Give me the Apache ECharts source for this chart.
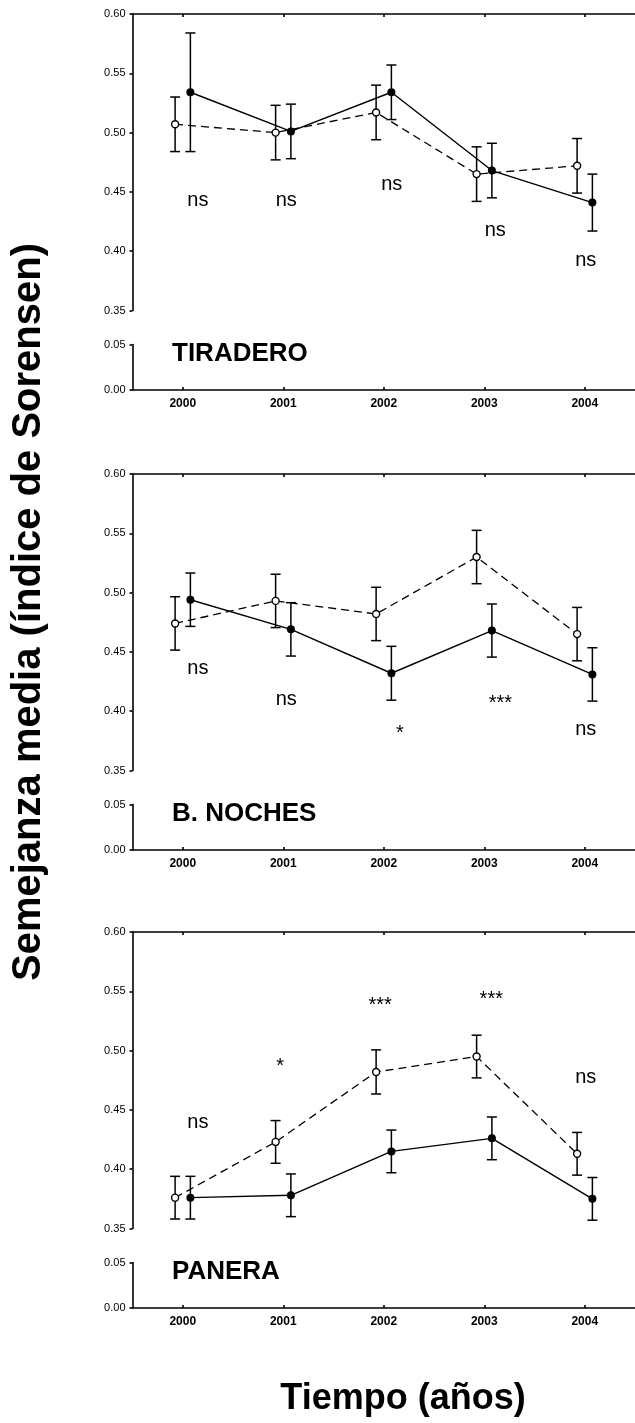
<!DOCTYPE html>
<html>
<head>
<meta charset="utf-8">
<script src="https://cdn.jsdelivr.net/npm/echarts@6/dist/echarts.min.js"></script>
<style>
html,body{margin:0;padding:0;background:#fff;}
#chart{width:635px;height:1423px;}
</style>
</head>
<body>
<div id="chart"></div>
<script>
// ---- data ----
const years = ['2000', '2001', '2002', '2003', '2004'];
const panelNames = ['TIRADERO', 'B. NOCHES', 'PANERA'];
const upperTicks = [0.35, 0.40, 0.45, 0.50, 0.55, 0.60];
const lowerTicks = [0.00, 0.05];

// TIRADERO
const tiraOpenMean   = [0.507, 0.500, 0.517, 0.465, 0.472];
const tiraOpenErr    = [0.023, 0.023, 0.023, 0.023, 0.023];
const tiraClosedMean = [0.534, 0.501, 0.534, 0.468, 0.441];
const tiraClosedErr  = [0.050, 0.023, 0.023, 0.023, 0.024];
const tiraSig  = ['ns', 'ns', 'ns', 'ns', 'ns'];
const tiraSigX = [0.15, 1.03, 2.08, 3.11, 4.01];
const tiraSigY = [0.443, 0.443, 0.456, 0.4175, 0.392];

// B. NOCHES
const nochOpenMean   = [0.474, 0.493, 0.482, 0.530, 0.465];
const nochOpenErr    = [0.0225, 0.0225, 0.0225, 0.0225, 0.0225];
const nochClosedMean = [0.494, 0.469, 0.432, 0.468, 0.431];
const nochClosedErr  = [0.0225, 0.0225, 0.0227, 0.0224, 0.0225];
const nochSig  = ['ns', 'ns', '*', '***', 'ns'];
const nochSigX = [0.15, 1.03, 2.16, 3.16, 4.01];
const nochSigY = [0.436, 0.4096, 0.381, 0.4064, 0.3847];

// PANERA
const paneOpenMean   = [0.376, 0.423, 0.482, 0.495, 0.413];
const paneOpenErr    = [0.018, 0.018, 0.0186, 0.018, 0.018];
const paneClosedMean = [0.376, 0.378, 0.415, 0.426, 0.375];
const paneClosedErr  = [0.018, 0.018, 0.018, 0.018, 0.018];
const paneSig  = ['ns', '*', '***', '***', 'ns'];
const paneSigX = [0.15, 0.97, 1.965, 3.07, 4.01];
const paneSigY = [0.439, 0.4865, 0.538, 0.5427, 0.4774];

const panels = [
  {open: tiraOpenMean, openErr: tiraOpenErr, closed: tiraClosedMean, closedErr: tiraClosedErr, sig: tiraSig, sigX: tiraSigX, sigY: tiraSigY},
  {open: nochOpenMean, openErr: nochOpenErr, closed: nochClosedMean, closedErr: nochClosedErr, sig: nochSig, sigX: nochSigX, sigY: nochSigY},
  {open: paneOpenMean, openErr: paneOpenErr, closed: paneClosedMean, closedErr: paneClosedErr, sig: paneSig, sigX: paneSigX, sigY: paneSigY}
];

// ---- layout / style ----
const FONT = 'Liberation Sans, Arial, Helvetica, sans-serif';
const panelTops = [14, 474, 932];
const UPPER_H = 296.5, LOWER_OFF = 330.5, LOWER_H = 45.5;
const LEFT = 132.5, RIGHT = -7.5;
const OFFSET = 0.076;
const catVals = years.map((y, i) => i);
const AX = {color: '#000', width: 1.6};

const chart = echarts.init(document.getElementById('chart'), null, {renderer: 'canvas'});

const grid = [], xAxis = [], yAxis = [], series = [], graphic = [];

function errRender(params, api) {
  const x = api.value(0), lo = api.value(1), hi = api.value(2);
  const pt = api.coord([x, hi]);
  const pb = api.coord([x, lo]);
  const cw = 5;
  const st = {stroke: '#000', lineWidth: 1.5};
  return {
    type: 'group',
    children: [
      {type: 'line', shape: {x1: pt[0], y1: pt[1], x2: pb[0], y2: pb[1]}, style: st},
      {type: 'line', shape: {x1: pt[0] - cw, y1: pt[1], x2: pt[0] + cw, y2: pt[1]}, style: st},
      {type: 'line', shape: {x1: pb[0] - cw, y1: pb[1], x2: pb[0] + cw, y2: pb[1]}, style: st}
    ]
  };
}

panels.forEach((p, k) => {
  const top = panelTops[k];
  const gu = 2 * k, gl = 2 * k + 1;
  grid.push({left: LEFT, right: RIGHT, top: top, height: UPPER_H, containLabel: false});
  grid.push({left: LEFT, right: RIGHT, top: top + LOWER_OFF, height: LOWER_H, containLabel: false});

  xAxis.push({
    gridIndex: gu, type: 'value', position: 'top', min: -0.5, max: 4.5,
    axisLine: {show: true, onZero: false, lineStyle: AX},
    axisTick: {show: true, inside: true, length: 3, customValues: catVals, lineStyle: AX},
    axisLabel: {show: false},
    splitLine: {show: false}
  });
  xAxis.push({
    gridIndex: gl, type: 'value', position: 'bottom', min: -0.5, max: 4.5,
    axisLine: {show: true, onZero: false, lineStyle: AX},
    axisTick: {show: true, inside: true, length: 3, customValues: catVals, lineStyle: AX},
    axisLabel: {show: true, customValues: catVals, margin: 8, color: '#000',
      fontFamily: FONT, fontWeight: 'bold', fontSize: 12,
      formatter: v => years[Math.round(v)]},
    splitLine: {show: false}
  });
  yAxis.push({
    gridIndex: gu, type: 'value', min: 0.35, max: 0.60,
    axisLine: {show: true, onZero: false, lineStyle: AX},
    axisTick: {show: true, inside: false, length: 3, customValues: upperTicks, lineStyle: AX},
    axisLabel: {show: true, customValues: upperTicks, margin: 7, color: '#000',
      fontFamily: FONT, fontSize: 11, formatter: v => v.toFixed(2)},
    splitLine: {show: false}
  });
  yAxis.push({
    gridIndex: gl, type: 'value', min: 0, max: 0.05,
    axisLine: {show: true, onZero: false, lineStyle: AX},
    axisTick: {show: true, inside: false, length: 3, customValues: lowerTicks, lineStyle: AX},
    axisLabel: {show: true, customValues: lowerTicks, margin: 7, color: '#000',
      fontFamily: FONT, fontSize: 11, formatter: v => v.toFixed(2)},
    splitLine: {show: false}
  });

  const openPts = p.open.map((v, i) => [i - OFFSET, v]);
  const closedPts = p.closed.map((v, i) => [i + OFFSET, v]);

  series.push({
    type: 'custom', xAxisIndex: gu, yAxisIndex: gu, z: 2, clip: false,
    renderItem: errRender, encode: {x: 0, y: [1, 2]},
    data: p.open.map((v, i) => [i - OFFSET, v - p.openErr[i], v + p.openErr[i]])
  });
  series.push({
    type: 'custom', xAxisIndex: gu, yAxisIndex: gu, z: 2, clip: false,
    renderItem: errRender, encode: {x: 0, y: [1, 2]},
    data: p.closed.map((v, i) => [i + OFFSET, v - p.closedErr[i], v + p.closedErr[i]])
  });
  series.push({
    type: 'line', xAxisIndex: gu, yAxisIndex: gu, z: 3,
    data: openPts, symbol: 'circle', symbolSize: 7, showAllSymbol: true,
    lineStyle: {color: '#000', width: 1.3, type: [8, 5]},
    itemStyle: {color: '#fff', borderColor: '#000', borderWidth: 1.4}
  });
  series.push({
    type: 'line', xAxisIndex: gu, yAxisIndex: gu, z: 4,
    data: closedPts, symbol: 'circle', symbolSize: 8, showAllSymbol: true,
    lineStyle: {color: '#000', width: 1.4, type: 'solid'},
    itemStyle: {color: '#000', borderColor: '#000', borderWidth: 0}
  });
  series.push({
    type: 'scatter', xAxisIndex: gu, yAxisIndex: gu, z: 5,
    symbolSize: 1, itemStyle: {color: 'rgba(255,255,255,0)', opacity: 1},
    data: p.sig.map((s, i) => ({name: s, value: [p.sigX[i], p.sigY[i]]})),
    label: {show: true, position: 'inside', formatter: '{b}', color: '#000',
      opacity: 1, fontFamily: FONT, fontSize: 20}
  });

  graphic.push({
    type: 'text', left: 172, top: top + 342 - 13 - 2,
    style: {text: panelNames[k], font: 'bold 26px ' + FONT, fill: '#000'}
  });
});

graphic.push({
  type: 'text', x: 29, y: 612, rotation: Math.PI / 2,
  style: {text: 'Semejanza media (índice de Sorensen)', font: 'bold 40px ' + FONT,
    fill: '#000', textAlign: 'center', textVerticalAlign: 'middle'}
});
graphic.push({
  type: 'text', x: 403, y: 1399,
  style: {text: 'Tiempo (años)', font: 'bold 36px ' + FONT,
    fill: '#000', textAlign: 'center', textVerticalAlign: 'middle'}
});

chart.setOption({
  animation: false,
  backgroundColor: '#fff',
  grid: grid, xAxis: xAxis, yAxis: yAxis, series: series, graphic: graphic
});
</script>
</body>
</html>
